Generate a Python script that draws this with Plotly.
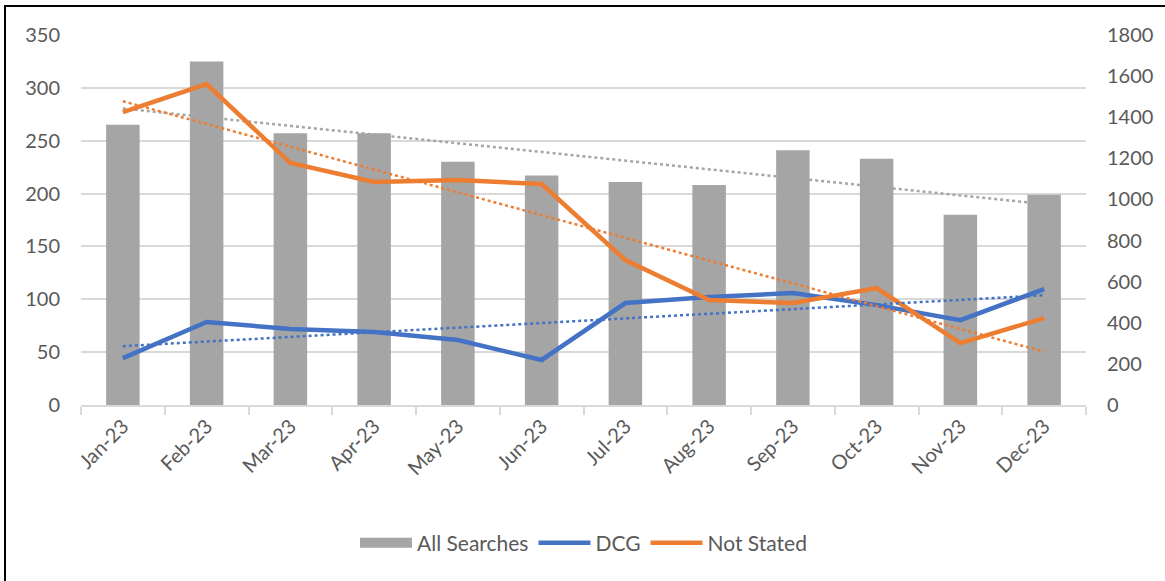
import numpy as np
import plotly.graph_objects as go

months = ["Jan-23", "Feb-23", "Mar-23", "Apr-23", "May-23", "Jun-23",
          "Jul-23", "Aug-23", "Sep-23", "Oct-23", "Nov-23", "Dec-23"]
all_searches = [265, 325, 257, 257, 230, 217, 211, 208, 241, 233, 180, 199]
dcg = [228, 404, 370, 355, 316, 219, 496, 525, 545, 486, 413, 564]
not_stated = [1425, 1561, 1177, 1085, 1094, 1075, 705, 511, 496, 569, 301, 423]

left_ticks = [0, 50, 100, 150, 200, 250, 300, 350]
right_ticks = [0, 200, 400, 600, 800, 1000, 1200, 1400, 1600, 1800]

GRAY = "#a5a5a5"
BLUE = "#4472c4"
ORANGE = "#ed7d31"
FONT = "Lato, 'Open Sans', sans-serif"


def trend(vals):
    idx = np.arange(len(vals))
    m, b = np.polyfit(idx, np.array(vals, dtype=float), 1)
    return list(m * idx + b)


fig = go.Figure()
# legend proxy for bars (wide grey block like the reference)
fig.add_trace(go.Scatter(x=[None], y=[None], name="All Searches", mode="lines",
                         line=dict(color=GRAY, width=13), yaxis="y"))
fig.add_trace(go.Bar(x=months, y=all_searches, name="All Searches", showlegend=False,
                     marker=dict(color=GRAY, line=dict(width=0)), yaxis="y"))
fig.add_trace(go.Scatter(x=months, y=trend(all_searches), mode="lines",
                         line=dict(color=GRAY, width=2.5, dash="dot"),
                         showlegend=False, hoverinfo="skip", yaxis="y"))
fig.add_trace(go.Scatter(x=months, y=dcg, name="DCG", mode="lines",
                         line=dict(color=BLUE, width=4.5), yaxis="y2"))
fig.add_trace(go.Scatter(x=months, y=not_stated, name="Not Stated", mode="lines",
                         line=dict(color=ORANGE, width=4.5), yaxis="y2"))
fig.add_trace(go.Scatter(x=months, y=trend(dcg), mode="lines",
                         line=dict(color=BLUE, width=2.5, dash="dot"),
                         showlegend=False, hoverinfo="skip", yaxis="y2"))
fig.add_trace(go.Scatter(x=months, y=trend(not_stated), mode="lines",
                         line=dict(color=ORANGE, width=2.5, dash="dot"),
                         showlegend=False, hoverinfo="skip", yaxis="y2"))

W, H = 1165, 581
L, R, T, B = 81, 1165 - 1086, 35, 581 - 405
pw, ph = W - L - R, H - T - B


def px2x(px):
    return (px - L) / pw


def px2y(py):
    return 1 - (py - T) / ph


fig.update_layout(
    width=W, height=H,
    margin=dict(l=L, r=R, t=T, b=B, pad=0),
    paper_bgcolor="white", plot_bgcolor="white",
    font=dict(family=FONT, size=20, color="#595959"),
    bargap=0.6,
    showlegend=True,
    legend=dict(orientation="h", x=0.5, xanchor="center", y=px2y(543), yanchor="middle",
                font=dict(size=21, color="#595959"), itemwidth=52,
                traceorder="normal", tracegroupgap=0),
    xaxis=dict(type="category", tickangle=-45, showgrid=False,
               showline=True, linecolor="#d9d9d9", linewidth=1.5,
               ticks="outside", tickson="boundaries", ticklen=8,
               tickcolor="#d9d9d9", tickwidth=1.5,
               tickfont=dict(size=20, color="#595959"),
               range=[-0.5, 11.5]),
    yaxis=dict(range=[0, 350], tickvals=left_ticks, showgrid=True,
               gridcolor="#d9d9d9", gridwidth=1.5, zeroline=False,
               showline=False, ticks="", ticklabelstandoff=20,
               tickfont=dict(size=20, color="#595959")),
    yaxis2=dict(range=[0, 1800], tickvals=right_ticks, overlaying="y",
                side="right", showgrid=False, zeroline=False, showline=False,
                ticks="", ticklabelstandoff=20,
                tickfont=dict(size=20, color="#595959")),
    shapes=[dict(type="rect", xref="paper", yref="paper",
                 x0=px2x(5), x1=px2x(1185), y0=px2y(620), y1=px2y(6),
                 line=dict(color="black", width=2), fillcolor="rgba(0,0,0,0)",
                 layer="above")],
)

fig.write_html("out.html", config={"displayModeBar": False},
               post_script="document.body.style.margin='0';document.body.style.padding='0';")
